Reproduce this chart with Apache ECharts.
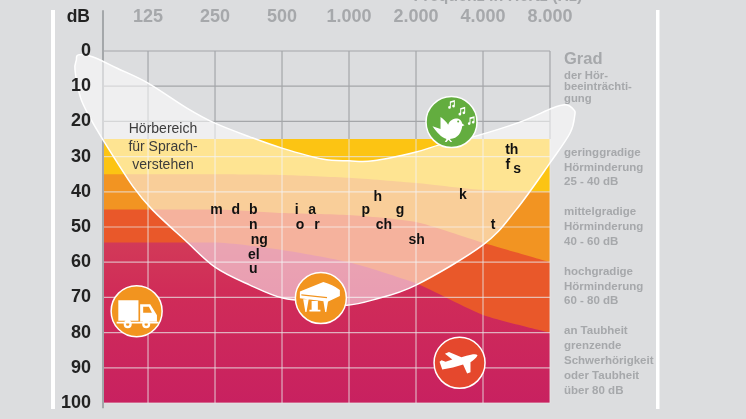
<!DOCTYPE html>
<html><head><meta charset="utf-8">
<style>html,body{margin:0;padding:0;background:#dcdddf}#c{width:746px;height:419px}</style>
<script src="https://cdn.jsdelivr.net/npm/echarts@6/dist/echarts.min.js"></script>
</head><body><div id="c"></div>
<script>
// --- data ---
const freqLabels = ['125','250','500','1.000','2.000','4.000','8.000'];
const octaves = [0,1,2,3,4,5,6];
const dbTicks = [0,10,20,30,40,50,60,70,80,90,100];
const bandX = [-0.657,0,1,2,3,4,5,6];
const bandMild   = [25,25,25,25,25,25,25,25];
const bandMiddle = [35,35,35,35.2,36,37.5,39.5,40];
const bandHigh   = [45,45,45,46,46.6,48.6,54.5,60];
const bandDeaf   = [54.4,54.4,54.4,56.5,60,66,75,80];
const bananaOct = [-1.04,-0.82,-0.46,0,0.58,1,1.52,2,2.6,3,3.36,4,4.36,4.85,5.55,6.04,6.24,6.36,6.37,6.3,6,5.49,5,4,3.36,2.97,2.57,2.01,1.52,1,0.55,0.07,-0.22,-0.67,-0.87,-1.01,-1.09,-1.07];
const bananaDb  = [1.1,1.7,4.9,9.1,16.2,20.5,24.4,27.6,30.7,31.2,31.2,28.7,26.6,24.4,20.2,16.2,15.3,16.8,18.2,23.3,31.8,45.2,55.1,66.5,70.7,72.2,71.3,70.2,66.5,61.4,53.7,45.2,38.6,25.3,18.8,13.1,5.4,2.6];
const phonemes = ['m','d','b','n','ng','el','u','i','a','o','r','p','h','g','ch','sh','k','t','th','f','s'];
const phonemeOct = [1.02,1.31,1.57,1.57,1.66,1.58,1.57,2.22,2.45,2.27,2.52,3.25,3.43,3.76,3.52,4.01,4.70,5.15,5.43,5.37,5.51];
const phonemeDb  = [45.2,45.2,45.2,49.4,53.7,58,61.9,45.2,45.2,49.4,49.4,45.2,41.5,45.2,49.4,53.7,40.9,49.4,28.1,32.4,33.5];
const iconNames = ['truck','piano','bird','plane'];
const iconOct = [-0.17,2.58,4.53,4.65];
const iconDb  = [73.9,70.2,20.2,88.6];
const legendBlocks = [
  ['geringgradige','Hörminderung','25 - 40 dB'],
  ['mittelgradige','Hörminderung','40 - 60 dB'],
  ['hochgradige','Hörminderung','60 - 80 dB'],
  ['an Taubheit','grenzende','Schwerhörigkeit','oder Taubheit','über 80 dB']
];
const speechLines = ['Hörbereich','für Sprach-','verstehen'];

// --- styles ---
const BG='#dcdddf', GREY='#a6a8ab', FONT='"Liberation Sans",Arial,sans-serif';
const note=(x,y)=>`M${x+8} ${y+4}L${x+23} ${y}V${y+18}A4 4 0 1 1 ${x+20} ${y+14}V${y+6}L${x+11} ${y+8}V${y+22}A4 4 0 1 1 ${x+8} ${y+18}Z`;
const ICONS={
 truck:{fill:'#f2941f',size:[42,28],off:[1,3],path:'M40 60H100V122H40ZM105 72H135L155 105V124H105ZM114 80V98H140L131 80ZM35 125H160V130H35ZM56 132a12 12 0 1 1 24 0a12 12 0 1 1 -24 0ZM63 132a5 5 0 1 0 10 0a5 5 0 1 0 -10 0ZM111 132a12 12 0 1 1 24 0a12 12 0 1 1 -24 0ZM118 132a5 5 0 1 0 10 0a5 5 0 1 0 -10 0Z'},
 piano:{fill:'#f2941f',size:[40,30],off:[-1,-1],path:'M36 72L100 45Q125 52 145 68V85L112 102L36 92ZM40 80L40 84L110 92L110 88ZM45 95H60L54 132H51ZM100 100H113L108 132H105ZM68 100H85V125H92V130H62V125H68Z'},
 bird:{fill:'#63ad3f',size:[42,42],off:[2,-1],path:note(82,30)+note(113,50)+note(141,78)+'M38 108L62 116L62 80C70 85 80 95 85 103C90 90 100 85 112 85C122 86 126 95 127 100L134 105L127 108C125 125 115 145 90 146L97 155H92L86 148L80 155H75L80 146C65 142 50 125 38 108ZM112 94a3 3 0 1 0 6 0a3 3 0 1 0 -6 0Z'},
 plane:{fill:'#e5482d',size:[38,21.5],off:[-1,0],path:'M143 67C138 62 125 65 110 69L95 73L58 58L46 63L68 80L48 87L36 82L30 87L38 110C60 107 80 101 100 95L112 122L122 118L122 88C130 82 140 75 143 67Z'}
};

// --- helpers ---
const seg=(stroke,width,z)=>({type:'custom',silent:true,z,encode:{x:[0,2],y:[1,3]},
  renderItem:(p,api)=>{const a=api.coord([api.value(0),api.value(1)]),b=api.coord([api.value(2),api.value(3)]);
    return {type:'line',shape:{x1:a[0],y1:a[1],x2:b[0],y2:b[1]},style:{stroke,lineWidth:width}};}});
const xMin=bandX[0], xMax=octaves[6];
const greyLines=[...octaves.map(o=>[o,0,o,25]),...[0,10,20].map(d=>[xMin,d,xMax,d])];
const lightLines=[...octaves.map(o=>[o,25,o,100]),...[30,40,50,60,70,80,90,100].map(d=>[xMin,d,xMax,d])];
const band=(vals,color,z)=>({type:'line',silent:true,z,symbol:'none',smooth:0.2,lineStyle:{width:0},
  areaStyle:{color,opacity:1,origin:'end'},data:bandX.map((x,i)=>[x,vals[i]])});
const txt=(text,x,y,o)=>({type:'text',silent:true,z:50,x,y,style:Object.assign({text,fill:GREY,font:'bold 11.5px '+FONT,textAlign:'left',textVerticalAlign:'middle'},o||{})});
// closed Catmull-Rom curve through the points
const closedCurve=pts=>{const n=pts.length;let d=`M${pts[0][0]} ${pts[0][1]}`;
  for(let i=0;i<n;i++){const p0=pts[(i-1+n)%n],p1=pts[i],p2=pts[(i+1)%n],p3=pts[(i+2)%n];
    d+=`C${p1[0]+(p2[0]-p0[0])/6} ${p1[1]+(p2[1]-p0[1])/6} ${p2[0]-(p3[0]-p1[0])/6} ${p2[1]-(p3[1]-p1[1])/6} ${p2[0]} ${p2[1]}`;}
  return d+'Z';};

const legendTop=[153,212,272,331];
const legendLH=[14.5,15,14.6,15];
const graphic=[
 {type:'rect',silent:true,z:0,shape:{x:51,y:10,width:4,height:399},style:{fill:'#fff'}},
 {type:'rect',silent:true,z:0,shape:{x:656,y:10,width:3.5,height:399},style:{fill:'#fff'}},
 txt('Frequenz in Hertz (Hz)',498,-3,{font:'bold 16px '+FONT,textAlign:'center'}),
 txt('dB',90,17,{font:'bold 17.5px '+FONT,fill:'#222',textAlign:'right'}),
 txt('Grad',564,59,{font:'bold 16.5px '+FONT}),
 txt('der Hör-',564,75.5,{font:'bold 11.3px '+FONT}),
 txt('beeinträchti-',564,87,{font:'bold 11.3px '+FONT}),
 txt('gung',564,98.5,{font:'bold 11.3px '+FONT}),
];
legendBlocks.forEach((b,i)=>b.forEach((l,j)=>graphic.push(txt(l,564,legendTop[i]+j*legendLH[i]))));
speechLines.forEach((l,j)=>graphic.push(txt(l,163,129+j*18,{font:'14px '+FONT,fill:'#3c3c3c',textAlign:'center'})));

const chart=echarts.init(document.getElementById('c'),null,{renderer:'canvas'});
chart.setOption({
 animation:false,backgroundColor:BG,
 grid:{left:104,right:196,top:51,bottom:16},
 graphic,
 xAxis:{type:'value',position:'top',z:20,min:xMin,max:xMax,
  axisLine:{show:false},splitLine:{show:false},axisTick:{show:false,customValues:octaves},
  axisLabel:{customValues:octaves,margin:25,color:GREY,fontFamily:FONT,fontWeight:'bold',fontSize:18,
    formatter:v=>freqLabels[octaves.indexOf(v)]||''}},
 yAxis:{type:'value',inverse:true,z:20,min:0,max:100,interval:10,
  axisLine:{show:false},axisTick:{show:false},splitLine:{show:false},
  axisLabel:{margin:13,color:'#222',fontFamily:FONT,fontWeight:'bold',fontSize:18,padding:[2,0,0,0],
    customValues:dbTicks}},
 series:[
  Object.assign(seg('#a4a6a9',1.2,2),{data:greyLines}),
  band(bandMild,'#fcc413',3),
  band(bandMiddle,'#f29422',4),
  band(bandHigh,'#e9582a',5),
  band(bandDeaf,{type:'linear',x:0,y:0,x2:0,y2:1,colorStops:[{offset:0,color:'#d23a58'},{offset:0.3,color:'#d02c58'},{offset:1,color:'#c82160'}]},6),
  Object.assign(seg('rgba(232,228,228,0.72)',1.2,7),{data:lightLines}),
  Object.assign(seg('#a4a7aa',2,8),{data:[[xMin-0.015,-11.6,xMin-0.015,101.5]]}),
  {type:'custom',silent:true,z:9,data:[[0,0]],
   renderItem:(p,api)=>({type:'path',
     shape:{pathData:closedCurve(bananaOct.map((o,i)=>api.coord([o,bananaDb[i]])))},
     style:{fill:'rgba(255,255,255,0.54)',stroke:'#fff',lineWidth:1.5}})},
  {type:'scatter',silent:true,symbol:'circle',symbolSize:1,z:10,itemStyle:{opacity:0},
   data:phonemes.map((s,i)=>({value:[phonemeOct[i],phonemeDb[i]],label:{show:true,position:'inside',formatter:s,color:'#111',opacity:1,textBorderWidth:0,fontFamily:FONT,fontWeight:'bold',fontSize:14}}))},
  {type:'scatter',silent:true,symbol:'circle',symbolSize:51,z:11,
   data:iconNames.map((n,i)=>({value:[iconOct[i],iconDb[i]],itemStyle:{color:ICONS[n].fill,opacity:1,borderColor:'#fff',borderWidth:1.5}}))},
  {type:'scatter',silent:true,z:12,
   data:iconNames.map((n,i)=>({value:[iconOct[i],iconDb[i]],symbol:'path://'+ICONS[n].path,symbolSize:ICONS[n].size,symbolOffset:ICONS[n].off,itemStyle:{color:'#fff',opacity:1}}))}
 ]
});
</script></body></html>
